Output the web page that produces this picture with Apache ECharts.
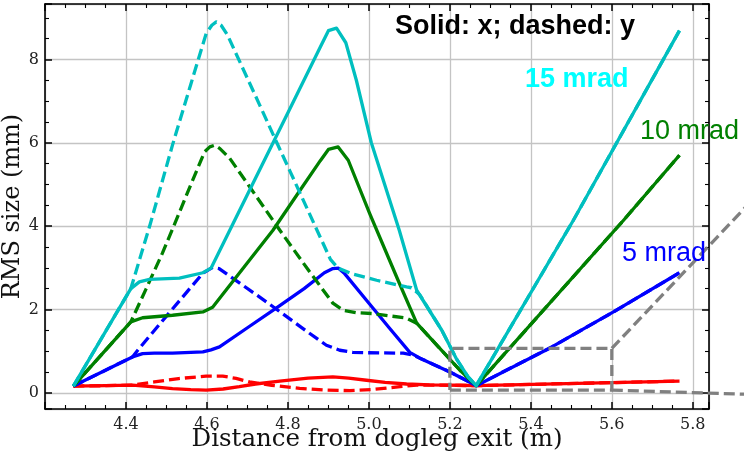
<!DOCTYPE html>
<html>
<head>
<meta charset="utf-8">
<script src="https://cdn.jsdelivr.net/npm/echarts@6/dist/echarts.min.js"></script>
<style>html,body{margin:0;padding:0;background:#fff}#c{width:744px;height:457px}</style>
</head>
<body>
<div id="c"></div>
<script>
// ---- data (x in m, y in mm) ----
const redSolid = [[4.27,0.16],[4.35,0.17],[4.416,0.185],[4.47,0.14],[4.515,0.10],[4.56,0.075],[4.598,0.065],[4.64,0.09],[4.68,0.145],[4.72,0.21],[4.78,0.28],[4.85,0.35],[4.911,0.38],[4.95,0.35],[4.994,0.30],[5.04,0.25],[5.093,0.21],[5.15,0.19],[5.225,0.18],[5.265,0.17],[5.767,0.28]];
const redDashed = [[4.27,0.16],[4.35,0.17],[4.416,0.185],[4.47,0.26],[4.53,0.34],[4.598,0.40],[4.639,0.40],[4.672,0.345],[4.705,0.26],[4.76,0.18],[4.829,0.105],[4.89,0.065],[4.953,0.05],[5.01,0.08],[5.077,0.145],[5.118,0.185],[5.2,0.18],[5.265,0.17],[5.767,0.28]];
const blueSolid = [[4.27,0.16],[4.416,0.86],[4.441,0.94],[4.47,0.95],[4.515,0.95],[4.59,0.98],[4.61,1.03],[4.631,1.10],[4.70,1.56],[4.771,2.03],[4.84,2.5],[4.89,2.88],[4.911,2.98],[4.925,2.99],[4.94,2.86],[4.994,2.22],[5.05,1.56],[5.101,0.97],[5.126,0.83],[5.2,0.50],[5.24,0.30],[5.265,0.17],[5.452,1.10],[5.604,1.94],[5.767,2.88]];
const blueDashed = [[4.27,0.16],[4.416,0.86],[4.429,1.02],[4.50,1.84],[4.59,2.87],[4.614,3.01],[4.63,2.98],[4.747,2.18],[4.85,1.45],[4.895,1.14],[4.928,1.02],[4.96,0.97],[4.994,0.96],[5.085,0.95],[5.11,0.9],[5.126,0.83],[5.2,0.50],[5.24,0.30],[5.265,0.17],[5.452,1.10],[5.604,1.94],[5.767,2.88]];
const greenSolid = [[4.27,0.16],[4.412,1.70],[4.441,1.80],[4.515,1.86],[4.59,1.94],[4.614,2.05],[4.70,3.12],[4.763,3.9],[4.83,4.86],[4.88,5.57],[4.90,5.84],[4.924,5.9],[4.949,5.58],[5.002,4.3],[5.072,2.70],[5.118,1.67],[5.17,1.12],[5.225,0.54],[5.265,0.17],[5.629,4.14],[5.767,5.70]];
const greenDashed = [[4.27,0.16],[4.412,1.70],[4.45,2.5],[4.49,3.35],[4.515,3.93],[4.56,4.99],[4.594,5.78],[4.607,5.9],[4.619,5.94],[4.632,5.86],[4.656,5.63],[4.705,4.95],[4.78,3.9],[4.85,2.95],[4.911,2.15],[4.936,1.98],[4.97,1.92],[5.01,1.9],[5.093,1.79],[5.118,1.67],[5.17,1.12],[5.225,0.54],[5.265,0.17],[5.629,4.14],[5.767,5.70]];
const cyanSolid = [[4.27,0.16],[4.412,2.5],[4.433,2.66],[4.458,2.72],[4.532,2.75],[4.59,2.88],[4.61,2.99],[4.70,4.76],[4.80,6.72],[4.88,8.3],[4.90,8.69],[4.92,8.75],[4.943,8.4],[4.969,7.5],[5.006,6.0],[5.075,3.9],[5.118,2.46],[5.18,1.5],[5.217,0.80],[5.245,0.38],[5.265,0.17],[5.505,4.14],[5.767,8.69]];
const cyanDashed = [[4.27,0.16],[4.412,2.5],[4.46,4.05],[4.515,5.95],[4.56,7.4],[4.598,8.62],[4.612,8.82],[4.623,8.90],[4.635,8.82],[4.651,8.58],[4.73,6.91],[4.767,6.12],[4.805,5.32],[4.854,4.28],[4.905,3.2],[4.924,2.99],[4.96,2.85],[5.019,2.70],[5.093,2.54],[5.105,2.52],[5.125,2.36],[5.18,1.5],[5.217,0.80],[5.245,0.38],[5.265,0.17],[5.505,4.14],[5.767,8.69]];
const zoomBox = [[5.2,0.065],[5.6,0.065],[5.6,1.065],[5.2,1.065],[5.2,0.065]];
const connectorTop = [[5.6,1.065],[5.93,4.45]];
const connectorBottom = [[5.6,0.065],[5.93,-0.035]];
const xRange = [4.2, 5.84];
const yRange = [-0.39, 9.33];
const xTitle = 'Distance from dogleg exit (m)';
const yTitle = 'RMS size (mm)';
const annotations = ['Solid: x; dashed: y', '15 mrad', '10 mrad', '5 mrad'];

const C = {red:'#ff0000', blue:'#0000ff', green:'#008000', cyan:'#00bfbf', gray:'#808080'};
const DASH = [11, 5];
function line(data, color, dashed, z) {
  return {type:'line', data, symbol:'none', silent:true, animation:false, z: z,
    lineStyle:{color, width:3.3, type: dashed ? DASH : 'solid', cap:'butt', join:'round'}};
}
const frameLine = {show:true, onZero:false, lineStyle:{color:'#000', width:1.6}};
const tick = {show:true, inside:true, length:7, lineStyle:{color:'#000', width:1.5}};
const minor = {show:true, splitNumber:4, length:4, lineStyle:{color:'#000', width:1.1}};
const grid = {show:true, lineStyle:{color:'#c4c4c4', width:1.3}};
const tickFont = {fontFamily:'DejaVu Serif', fontSize:16, color:'#222'};

const chart = echarts.init(document.getElementById('c'), null, {renderer:'canvas'});
chart.setOption({
  animation:false,
  backgroundColor:'#fff',
  grid:{left:45, top:4, right:35, bottom:48, containLabel:false, outerBoundsMode:'none'},
  xAxis:[
    {type:'value', min:xRange[0], max:xRange[1], interval:0.2, position:'bottom',
     axisLine:frameLine, axisTick:tick, minorTick:minor, splitLine:grid, minorSplitLine:{show:false},
     axisLabel:Object.assign({showMinLabel:false, showMaxLabel:false, margin:8, formatter:v=>v.toFixed(1)}, tickFont)},
    {type:'value', min:xRange[0], max:xRange[1], interval:0.2, position:'top',
     axisLine:frameLine, axisTick:tick, minorTick:minor, splitLine:{show:false}, axisLabel:{show:false}}
  ],
  yAxis:[
    {type:'value', min:yRange[0], max:yRange[1], splitNumber:5, position:'left',
     axisLine:frameLine, axisTick:tick, minorTick:minor, splitLine:grid,
     axisLabel:Object.assign({showMinLabel:false, showMaxLabel:false, margin:6}, tickFont),
     name:yTitle, nameLocation:'middle', nameGap:20, nameMoveOverlap:false,
     nameTextStyle:{fontFamily:'DejaVu Serif', fontSize:24, color:'#111'}},
    {type:'value', min:yRange[0], max:yRange[1], splitNumber:5, position:'right',
     axisLine:frameLine, axisTick:tick, minorTick:minor, splitLine:{show:false}, axisLabel:{show:false}}
  ],
  series:[
    line(redSolid, C.red, false, 2), line(redDashed, C.red, true, 2),
    line(blueSolid, C.blue, false, 3), line(blueDashed, C.blue, true, 3),
    line(greenSolid, C.green, false, 4), line(greenDashed, C.green, true, 4),
    line(cyanSolid, C.cyan, false, 5), line(cyanDashed, C.cyan, true, 5),
    line(zoomBox, C.gray, true, 6)
  ],
  graphic:[
    {type:'text', x:377, y:440, z:100, style:{text:xTitle, fill:'#111', font:'24.5px "DejaVu Serif", serif', align:'center', verticalAlign:'middle'}},
    {type:'text', x:395, y:27, z:100, style:{text:annotations[0], fill:'#000', font:'bold 27px "Liberation Sans", Arial, sans-serif', align:'left', verticalAlign:'middle'}},
    {type:'text', x:525, y:80, z:100, style:{text:annotations[1], fill:'#00ffff', font:'bold 27px "Liberation Sans", Arial, sans-serif', align:'left', verticalAlign:'middle'}},
    {type:'text', x:640, y:132, z:100, style:{text:annotations[2], fill:'#008000', font:'27px "Liberation Sans", Arial, sans-serif', align:'left', verticalAlign:'middle'}},
    {type:'text', x:622, y:254, z:100, style:{text:annotations[3], fill:'#0000ff', font:'27px "Liberation Sans", Arial, sans-serif', align:'left', verticalAlign:'middle'}}
  ]
});
// connector lines of the zoom box run outside the plot: draw them from data coords
const toPx = d => chart.convertToPixel({xAxisIndex:0, yAxisIndex:0}, d);
chart.setOption({graphic:[
  {id:'conTop', type:'polyline', z:50, shape:{points:connectorTop.map(toPx)}, style:{stroke:C.gray, lineWidth:3.3, lineDash:DASH, fill:null}},
  {id:'conBot', type:'polyline', z:50, shape:{points:connectorBottom.map(toPx)}, style:{stroke:C.gray, lineWidth:3.3, lineDash:DASH, fill:null}}
]});
</script>
</body>
</html>
